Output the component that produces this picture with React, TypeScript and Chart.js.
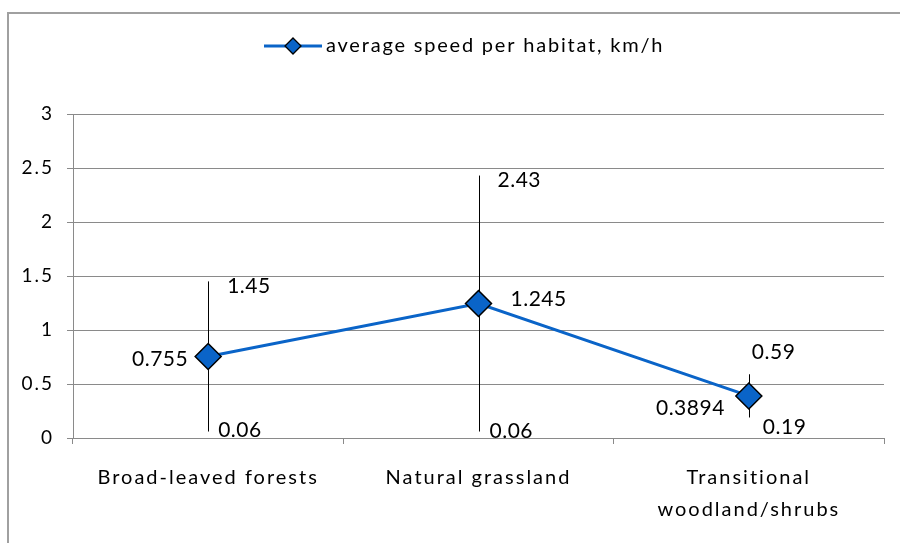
import { useEffect, useRef } from "react";
import { Chart, registerables } from "chart.js";

Chart.register(...registerables);

const categories = [["Broad-leaved forests"], ["Natural grassland"], ["Transitional", "woodland/shrubs"]];
const averageSpeed = [0.755, 1.245, 0.3894];
const maxSpeed = [1.45, 2.43, 0.59];
const minSpeed = [0.06, 0.06, 0.19];
const averageLabels = ["0.755", "1.245", "0.3894"];
const maxLabels = ["1.45", "2.43", "0.59"];
const minLabels = ["0.06", "0.06", "0.19"];
const seriesLabel = "average speed per habitat, km/h";
const yMin = 0;
const yMax = 3;
const yStep = 0.5;

const FONT = "Lato, 'Open Sans', sans-serif";
const BLUE = "#0A64C8";
const GRID = "#8a8a8a";

// label placement styling (pixel offsets from the mark)
const avgLabelStyle = [
  { dx: -20, dy: 3, align: "right" },
  { dx: 32, dy: -4, align: "left" },
  { dx: -24, dy: 12, align: "right" },
];
const maxLabelStyle = [
  { dx: 19, dy: 5 },
  { dx: 19, dy: 5 },
  { dx: 3, dy: -22 },
];
const minLabelStyle = [
  { dx: 10, dy: -1 },
  { dx: 11, dy: 0 },
  { dx: 14, dy: 10 },
];

const decorPlugin = {
  id: "decor",
  beforeDraw(chart: any) {
    const ctx = chart.ctx;
    ctx.save();
    ctx.fillStyle = "#fff";
    ctx.fillRect(0, 0, chart.width, chart.height);
    ctx.strokeStyle = "#a0a0a0";
    ctx.lineWidth = 2;
    ctx.beginPath();
    ctx.moveTo(8, chart.height + 5);
    ctx.lineTo(8, 13);
    ctx.lineTo(chart.width + 5, 13);
    ctx.stroke();
    // legend
    const ly = 46;
    ctx.strokeStyle = BLUE;
    ctx.lineWidth = 3;
    ctx.beginPath();
    ctx.moveTo(264, ly);
    ctx.lineTo(322, ly);
    ctx.stroke();
    ctx.beginPath();
    ctx.moveTo(293, ly - 8);
    ctx.lineTo(301, ly);
    ctx.lineTo(293, ly + 8);
    ctx.lineTo(285, ly);
    ctx.closePath();
    ctx.fillStyle = BLUE;
    ctx.fill();
    ctx.strokeStyle = "#000";
    ctx.lineWidth = 1.3;
    ctx.stroke();
    ctx.fillStyle = "#000";
    ctx.font = `20px ${FONT}`;
    (ctx as any).letterSpacing = "1.8px";
    ctx.textAlign = "left";
    ctx.textBaseline = "middle";
    ctx.fillText(seriesLabel, 326, ly);
    ctx.restore();
    (ctx as any).letterSpacing = "2px";
  },
  beforeDatasetsDraw(chart: any) {
    const ctx = chart.ctx;
    const xs = chart.scales.x;
    const ys = chart.scales.y;
    ctx.save();
    ctx.strokeStyle = "#000";
    ctx.lineWidth = 1;
    for (let i = 0; i < averageSpeed.length; i++) {
      const x = Math.round(xs.getPixelForValue(i)) + 0.5;
      ctx.beginPath();
      ctx.moveTo(x, ys.getPixelForValue(maxSpeed[i]));
      ctx.lineTo(x, ys.getPixelForValue(minSpeed[i]));
      ctx.stroke();
    }
    ctx.restore();
  },
  afterDatasetsDraw(chart: any) {
    const ctx = chart.ctx;
    const xs = chart.scales.x;
    const ys = chart.scales.y;
    ctx.save();
    (ctx as any).letterSpacing = "0.5px";
    ctx.fillStyle = "#000";
    ctx.font = `21px ${FONT}`;
    ctx.textBaseline = "middle";
    for (let i = 0; i < averageSpeed.length; i++) {
      const x = xs.getPixelForValue(i);
      const a = avgLabelStyle[i];
      ctx.textAlign = a.align;
      ctx.fillText(averageLabels[i], x + a.dx, ys.getPixelForValue(averageSpeed[i]) + a.dy);
      ctx.textAlign = "left";
      const m = maxLabelStyle[i];
      ctx.fillText(maxLabels[i], x + m.dx, ys.getPixelForValue(maxSpeed[i]) + m.dy);
      const n = minLabelStyle[i];
      ctx.fillText(minLabels[i], x + n.dx, ys.getPixelForValue(minSpeed[i]) + n.dy);
    }
    ctx.restore();
  },
  afterDraw(chart: any) {
    (chart.ctx as any).letterSpacing = "0px";
  },
};

export default function App() {
  const ref = useRef<HTMLCanvasElement>(null);
  useEffect(() => {
    const chart = new Chart(ref.current!, {
      type: "line",
      data: {
        labels: categories,
        datasets: [
          {
            label: seriesLabel,
            data: averageSpeed,
            borderColor: BLUE,
            backgroundColor: BLUE,
            borderWidth: 3,
            pointStyle: "rectRot",
            pointRadius: 13,
            pointBorderColor: "#000",
            pointBorderWidth: 1.5,
            pointBackgroundColor: BLUE,
            tension: 0,
          },
        ],
      },
      options: {
        responsive: false,
        animation: false,
        devicePixelRatio: 1,
        layout: { padding: { left: 0, top: 114, right: 16, bottom: 0 } },
        plugins: { legend: { display: false }, tooltip: { enabled: false } },
        scales: {
          x: {
            offset: true,
            afterFit(s: any) {
              s.height = 105;
            },
            grid: { offset: true, drawOnChartArea: false, drawTicks: true, tickLength: 6, color: GRID },
            border: { display: true, color: GRID },
            ticks: {
              color: "#000",
              padding: 18,
              autoSkip: false,
              font: { family: FONT, size: 20, lineHeight: 1.6 },
              maxRotation: 0,
            },
          },
          y: {
            min: yMin,
            max: yMax,
            afterFit(s: any) {
              s.width = 73;
            },
            grid: { color: GRID, tickLength: 6, drawTicks: true },
            border: { display: true, color: GRID },
            ticks: {
              stepSize: yStep,
              color: "#000",
              padding: 13,
              font: { family: FONT, size: 19 },
              callback: (v: any) => String(v),
            },
          },
        },
      },
      plugins: [decorPlugin],
    });
    return () => chart.destroy();
  }, []);
  return (
    <div style={{ position: "fixed", left: 0, top: 0, width: 900, height: 543, background: "#fff" }}>
      <canvas ref={ref} width={900} height={543} style={{ width: 900, height: 543, display: "block" }} />
    </div>
  );
}
